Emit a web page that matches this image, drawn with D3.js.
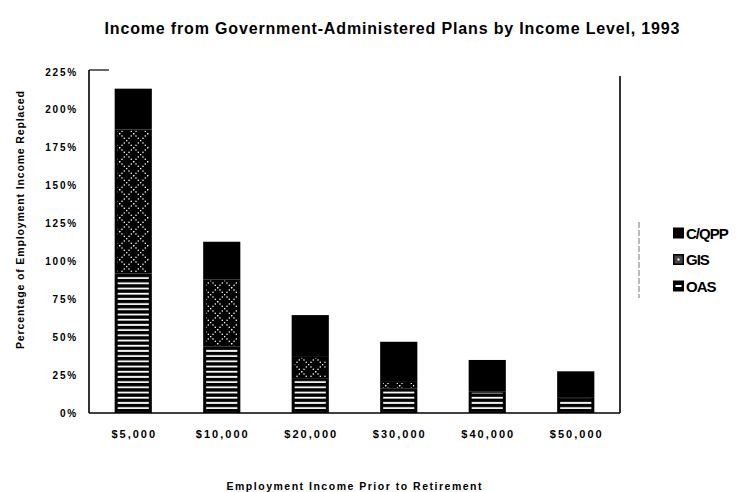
<!DOCTYPE html>
<html>
<head>
<meta charset="utf-8">
<script src="https://cdn.jsdelivr.net/npm/d3@7"></script>
<style>
  body { margin: 0; background: #fff; }
  svg { display: block; font-family: "Liberation Sans", Arial, sans-serif; }
</style>
</head>
<body>
<svg id="chart" width="740" height="492"></svg>
<script>
// data (percent of employment income replaced)
const categories = ["$5,000", "$10,000", "$20,000", "$30,000", "$40,000", "$50,000"];
const oasValues = [92, 44, 23, 16, 14, 10];
const gisValues = [95, 44, 14, 4.5, 0, 0];
const cqppValues = [27, 25, 27.6, 26.5, 21, 17.5];
const yTicks = [0, 25, 50, 75, 100, 125, 150, 175, 200, 225];
const seriesNames = ["C/QPP", "GIS", "OAS"];

const svg = d3.select("#chart");
const plotLeft = 89, plotRight = 620, plotTop = 72, plotBottom = 413;

const rows = categories.map((c, i) => ({cat: c, oas: oasValues[i], gis: gisValues[i], cqpp: cqppValues[i]}));
const stack = d3.stack().keys(["oas", "gis", "cqpp"])(rows);

const x = d3.scaleBand().domain(categories).range([plotLeft, plotRight]).paddingInner(0.58).paddingOuter(0.29);
const y = d3.scaleLinear().domain([0, 225]).range([plotBottom, plotTop]);

// fill patterns
const defs = svg.append("defs");
const stripes = defs.append("pattern").attr("id", "stripes")
  .attr("patternUnits", "userSpaceOnUse").attr("width", 8).attr("height", 5.2);
stripes.append("rect").attr("width", 8).attr("height", 5.2).attr("fill", "#000");
stripes.append("rect").attr("y", 1.6).attr("width", 8).attr("height", 1.8).attr("fill", "#fff");

const dots = defs.append("pattern").attr("id", "dots")
  .attr("patternUnits", "userSpaceOnUse").attr("width", 14).attr("height", 14);
dots.append("rect").attr("width", 14).attr("height", 14).attr("fill", "#000");
d3.range(0, 14, 2.33).forEach(p => {
  dots.append("rect").attr("x", p).attr("y", p).attr("width", 1.3).attr("height", 1.3).attr("fill", "#fff");
  dots.append("rect").attr("x", 14 - p).attr("y", p).attr("width", 1.3).attr("height", 1.3).attr("fill", "#fff");
});

// title
svg.append("text")
  .attr("x", 392).attr("y", 34)
  .attr("text-anchor", "middle")
  .attr("textLength", 575).attr("lengthAdjust", "spacing")
  .style("font-size", "16px").style("font-weight", "bold")
  .text("Income from Government-Administered Plans by Income Level, 1993");

// bars
const fills = {oas: "url(#stripes)", gis: "url(#dots)", cqpp: "#000"};
stack.forEach(layer => {
  const g = svg.append("g");
  g.selectAll("rect.base")
    .data(layer.filter(d => d[1] - d[0] > 0))
    .enter().append("rect")
    .attr("x", d => x(d.data.cat))
    .attr("y", d => y(d[1]))
    .attr("width", x.bandwidth())
    .attr("height", d => y(d[0]) - y(d[1]))
    .attr("fill", "#000");
  if (layer.key !== "cqpp") {
    g.selectAll("rect.fill")
      .data(layer.filter(d => d[1] - d[0] > 0))
      .enter().append("rect")
      .attr("x", d => x(d.data.cat) + 3)
      .attr("y", d => y(d[1]) + 1)
      .attr("width", x.bandwidth() - 6)
      .attr("height", d => Math.max(0, y(d[0]) - y(d[1]) - 2))
      .attr("fill", fills[layer.key]);
  }
});

// frame
svg.append("line").attr("x1", plotLeft).attr("x2", plotLeft).attr("y1", plotTop - 2).attr("y2", plotBottom)
  .attr("stroke", "#000").attr("stroke-width", 1.6);
svg.append("line").attr("x1", plotLeft).attr("x2", plotRight).attr("y1", plotBottom).attr("y2", plotBottom)
  .attr("stroke", "#000").attr("stroke-width", 1.6);
svg.append("line").attr("x1", plotRight).attr("x2", plotRight).attr("y1", plotTop + 4).attr("y2", plotBottom)
  .attr("stroke", "#000").attr("stroke-width", 1.6);
svg.append("line").attr("x1", plotLeft).attr("x2", plotLeft + 20).attr("y1", plotTop - 2).attr("y2", plotTop - 2)
  .attr("stroke", "#000").attr("stroke-width", 1.2);

// y tick labels
svg.append("g").selectAll("text")
  .data(yTicks).enter().append("text")
  .attr("x", 78).attr("y", d => y(d) + 3.5)
  .attr("text-anchor", "end")
  .style("font-size", "10px").style("font-weight", "bold").style("letter-spacing", "1.8px")
  .text(d => d + "%");

// x tick labels
svg.append("g").selectAll("text")
  .data(categories).enter().append("text")
  .attr("x", d => x(d) + x.bandwidth() / 2 + 1)
  .attr("y", 438)
  .attr("text-anchor", "middle")
  .style("font-size", "11px").style("font-weight", "bold").style("letter-spacing", "2px")
  .text(d => d);

// axis titles
svg.append("text")
  .attr("transform", "translate(24,220) rotate(-90)")
  .attr("text-anchor", "middle")
  .attr("textLength", 258).attr("lengthAdjust", "spacing")
  .style("font-size", "10.5px").style("font-weight", "bold")
  .text("Percentage of Employment Income Replaced");

svg.append("text")
  .attr("x", 354).attr("y", 490)
  .attr("text-anchor", "middle")
  .attr("textLength", 255).attr("lengthAdjust", "spacing")
  .style("font-size", "10.5px").style("font-weight", "bold")
  .text("Employment Income Prior to Retirement");

// legend
svg.append("line").attr("x1", 639).attr("x2", 639).attr("y1", 222).attr("y2", 298)
  .attr("stroke", "#777").attr("stroke-width", 1).attr("stroke-dasharray", "6,2");

const legend = svg.append("g").selectAll("g")
  .data(seriesNames).enter().append("g")
  .attr("transform", (d, i) => `translate(673,${233 + i * 26.5})`);
legend.append("rect")
  .attr("x", 0).attr("y", -5.5).attr("width", 11).attr("height", 11)
  .attr("fill", "#000");
legend.filter(d => d === "GIS").append("rect")
  .attr("x", 1.5).attr("y", -4).attr("width", 8).attr("height", 8).attr("fill", "#444");
legend.filter(d => d === "GIS").append("rect")
  .attr("x", 4.5).attr("y", -1).attr("width", 2).attr("height", 2).attr("fill", "#fff");
legend.filter(d => d === "OAS").append("rect")
  .attr("x", 2.5).attr("y", -1).attr("width", 6).attr("height", 2).attr("fill", "#fff");
legend.append("text")
  .attr("x", 13).attr("y", 5.5)
  .style("font-size", "15px").style("font-weight", "bold").style("letter-spacing", "-1px")
  .text(d => d);
</script>
</body>
</html>
